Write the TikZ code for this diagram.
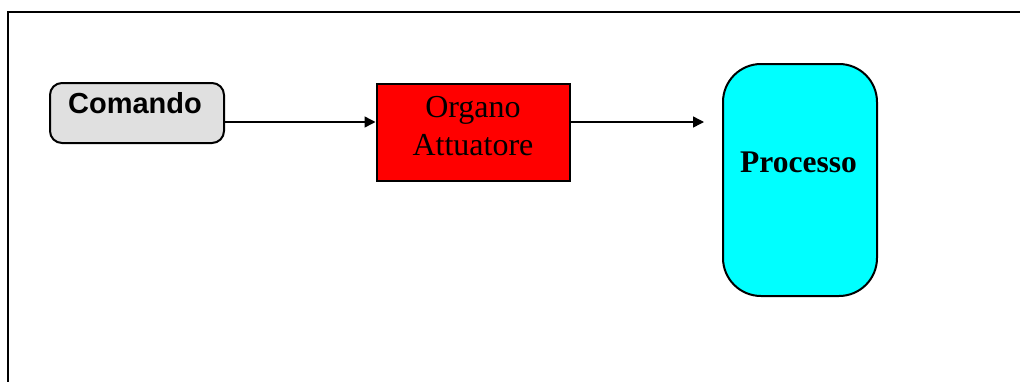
\documentclass[tikz,border=0pt]{standalone}
\usepackage{fontspec}
\setmainfont{Liberation Serif}
\newfontfamily\arialfont{Liberation Sans}
\usetikzlibrary{arrows.meta}
\definecolor{procfill}{RGB}{0,255,255}
\definecolor{actfill}{RGB}{255,0,0}
\definecolor{cmdfill}{RGB}{224,224,224}
\tikzset{
  frameline/.style={line width=2.4pt, black},
  boxbase/.style={draw=black, line width=2pt, inner sep=0pt},
  cmdbox/.style={boxbase, fill=cmdfill, rounded corners=12pt, minimum width=174pt, minimum height=60pt},
  actbox/.style={boxbase, fill=actfill, minimum width=193pt, minimum height=97pt},
  procbox/.style={boxbase, fill=procfill, rounded corners=38pt, minimum width=154pt, minimum height=232pt},
  conn/.style={line width=1.5pt, -{Triangle[length=11pt,width=11pt]}},
  sanslabel/.style={font=\arialfont\bfseries\fontsize{29}{33}\selectfont, inner sep=0pt},
  seriflabel/.style={font=\fontsize{32}{37}\selectfont, inner sep=0pt},
  boldserif/.style={font=\bfseries\fontsize{31.5}{37}\selectfont, inner sep=0pt}
}
\begin{document}
\begin{tikzpicture}[x=1pt,y=-1pt]
\useasboundingbox (0,0) rectangle (1020,381);
\draw[frameline] (8,385) -- (8,12) -- (1022,12);
\node[cmdbox] (cmd) at (137,113) {};
\node[sanslabel, anchor=base] (cmdt) at (135,113.5) {Comando};
\node[actbox] (act) at (473,132) {};
\node[seriflabel, anchor=base] (act1) at (473,117.5) {Organo};
\node[seriflabel, anchor=base] (act2) at (473,155) {Attuatore};
\node[procbox] (proc) at (800,180) {};
\node[boldserif, anchor=base] (proct) at (798.5,172.5) {Processo};
\coordinate (end) at (704,122);
\draw[conn] (cmd.east |- 0,122) -- (act.west |- 0,122);
\draw[conn] (act.east |- 0,122) -- (end);
\end{tikzpicture}
\end{document}
